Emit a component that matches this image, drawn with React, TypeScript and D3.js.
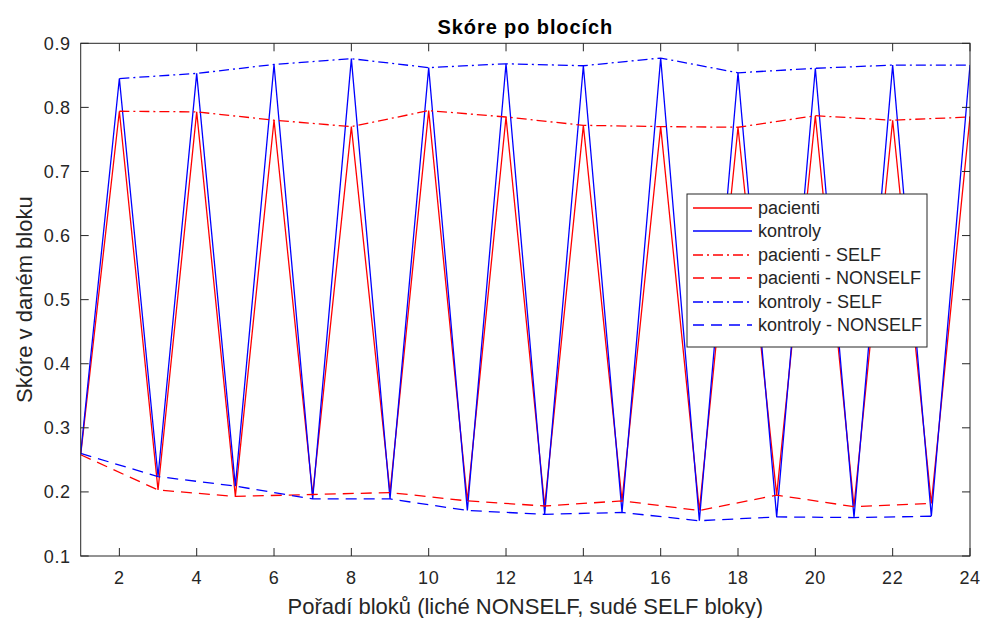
import React, { useRef, useEffect } from 'react';
import * as d3 from 'd3';

// block numbers
const oddBlocks = [1, 3, 5, 7, 9, 11, 13, 15, 17, 19, 21, 23];
const evenBlocks = [2, 4, 6, 8, 10, 12, 14, 16, 18, 20, 22, 24];

// scores
const pacientiNonself = [0.258, 0.203, 0.193, 0.196, 0.199, 0.186, 0.178, 0.186, 0.171, 0.195, 0.177, 0.182];
const pacientiSelf = [0.794, 0.793, 0.780, 0.770, 0.795, 0.785, 0.772, 0.770, 0.769, 0.787, 0.780, 0.785];
const kontrolyNonself = [0.260, 0.224, 0.209, 0.189, 0.189, 0.171, 0.165, 0.168, 0.155, 0.161, 0.160, 0.162];
const kontrolySelf = [0.845, 0.853, 0.867, 0.876, 0.862, 0.868, 0.865, 0.877, 0.854, 0.861, 0.866, 0.866];

const xTicks = [2, 4, 6, 8, 10, 12, 14, 16, 18, 20, 22, 24];
const yTicks = [0.1, 0.2, 0.3, 0.4, 0.5, 0.6, 0.7, 0.8, 0.9];

const legendLabels = [
  'pacienti',
  'kontroly',
  'pacienti - SELF',
  'pacienti - NONSELF',
  'kontroly - SELF',
  'kontroly - NONSELF',
];

type Pt = { x: number; y: number };

const interleave = (odd: number[], even: number[]): Pt[] => {
  const out: Pt[] = [];
  odd.forEach((v, i) => {
    out.push({ x: oddBlocks[i], y: v });
    out.push({ x: evenBlocks[i], y: even[i] });
  });
  return out;
};
const pairs = (xs: number[], ys: number[]): Pt[] => xs.map((x, i) => ({ x, y: ys[i] }));

const App = () => {
  const ref = useRef<SVGSVGElement>(null);

  useEffect(() => {
    const W = 982;
    const H = 618;
    const margin = { top: 43.3, right: 12, bottom: 62, left: 80.7 };
    const font = '"Liberation Sans", Arial, Helvetica, sans-serif';
    const axisColor = '#262626';

    const svg = d3.select(ref.current!);
    svg.selectAll('*').remove();
    svg.attr('width', W).attr('height', H);

    svg.append('rect').attr('width', W).attr('height', H).attr('fill', '#fff');

    const x = d3.scaleLinear().domain([1, 24]).range([margin.left, W - margin.right]);
    const y = d3.scaleLinear().domain([0.1, 0.9]).range([H - margin.bottom, margin.top]);

    const [x0, x1] = x.range();
    const [y0, y1] = y.range();

    const line = d3.line<Pt>().x(d => x(d.x)).y(d => y(d.y));

    const series = [
      { data: interleave(pacientiNonself, pacientiSelf), color: '#ff0000', dash: null },
      { data: interleave(kontrolyNonself, kontrolySelf), color: '#0000ff', dash: null },
      { data: pairs(evenBlocks, pacientiSelf), color: '#ff0000', dash: '10,4,2,4' },
      { data: pairs(oddBlocks, pacientiNonself), color: '#ff0000', dash: '11,7' },
      { data: pairs(evenBlocks, kontrolySelf), color: '#0000ff', dash: '10,4,2,4' },
      { data: pairs(oddBlocks, kontrolyNonself), color: '#0000ff', dash: '11,7' },
    ];

    const plot = svg.append('g');
    plot.append('defs').append('clipPath').attr('id', 'clip')
      .append('rect').attr('x', x0).attr('y', y1).attr('width', x1 - x0).attr('height', y0 - y1);

    const lines = plot.append('g').attr('clip-path', 'url(#clip)');
    series.forEach(s => {
      lines.append('path')
        .datum(s.data)
        .attr('d', line)
        .attr('fill', 'none')
        .attr('stroke', s.color)
        .attr('stroke-width', 1.3)
        .attr('stroke-dasharray', s.dash);
    });

    // axes box and ticks
    const axes = svg.append('g').attr('stroke', axisColor).attr('stroke-width', 1).attr('fill', 'none');
    axes.append('rect').attr('x', x0).attr('y', y1).attr('width', x1 - x0).attr('height', y0 - y1);
    const tl = 8;
    xTicks.forEach(t => {
      axes.append('line').attr('x1', x(t)).attr('x2', x(t)).attr('y1', y0).attr('y2', y0 - tl);
      axes.append('line').attr('x1', x(t)).attr('x2', x(t)).attr('y1', y1).attr('y2', y1 + tl);
    });
    yTicks.forEach(t => {
      axes.append('line').attr('x1', x0).attr('x2', x0 + tl).attr('y1', y(t)).attr('y2', y(t));
      axes.append('line').attr('x1', x1).attr('x2', x1 - tl).attr('y1', y(t)).attr('y2', y(t));
    });

    const labels = svg.append('g')
      .attr('font-family', font).attr('fill', axisColor)
      .attr('font-size', 18).attr('letter-spacing', 0.6);
    xTicks.forEach(t => {
      labels.append('text').attr('x', x(t)).attr('y', y0 + 28).attr('text-anchor', 'middle').text(String(t));
    });
    yTicks.forEach(t => {
      labels.append('text').attr('x', x0 - 10).attr('y', y(t) + 6.5).attr('text-anchor', 'end').text(d3.format('.1f')(t));
    });

    // title and axis labels
    svg.append('text')
      .attr('x', (x0 + x1) / 2).attr('y', 34)
      .attr('text-anchor', 'middle')
      .attr('font-family', font).attr('font-weight', 'bold').attr('font-size', 20)
      .attr('letter-spacing', 0.9)
      .attr('fill', '#000')
      .text('Skóre po blocích');

    svg.append('text')
      .attr('x', (x0 + x1) / 2).attr('y', 614)
      .attr('text-anchor', 'middle')
      .attr('font-family', font).attr('font-size', 22)
      .attr('fill', axisColor)
      .text('Pořadí bloků (liché NONSELF, sudé SELF bloky)');

    svg.append('text')
      .attr('transform', `translate(32,${(y0 + y1) / 2}) rotate(-90)`)
      .attr('text-anchor', 'middle')
      .attr('font-family', font).attr('font-size', 22)
      .attr('fill', axisColor)
      .text('Skóre v daném bloku');

    // legend
    const lg = svg.append('g').attr('transform', 'translate(687,194)');
    lg.append('rect').attr('width', 240).attr('height', 153)
      .attr('fill', '#fff').attr('stroke', axisColor).attr('stroke-width', 1);
    legendLabels.forEach((name, i) => {
      const ly = Math.round(14 + i * 23.4);
      const s = series[i];
      lg.append('line')
        .attr('x1', 6).attr('x2', 65).attr('y1', ly).attr('y2', ly)
        .attr('stroke', s.color).attr('stroke-width', 1.3)
        .attr('stroke-dasharray', s.dash);
      lg.append('text')
        .attr('x', 71).attr('y', ly + 6)
        .attr('font-family', font).attr('font-size', 18)
        .attr('fill', axisColor)
        .text(name);
    });
  }, []);

  return (
    <div style={{ position: 'absolute', left: 0, top: 0 }}>
      <svg ref={ref} style={{ display: 'block' }} />
    </div>
  );
};

export default App;
